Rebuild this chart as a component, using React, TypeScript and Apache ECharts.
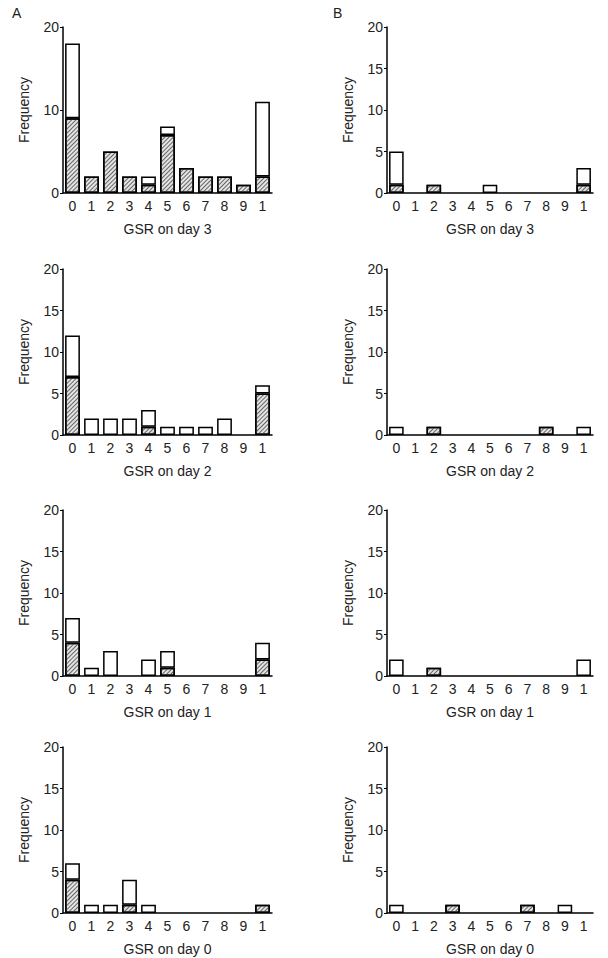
import { useEffect, useRef } from "react";
import * as echarts from "echarts";

const categories = ["0", "1", "2", "3", "4", "5", "6", "7", "8", "9", "1"];
const days = [3, 2, 1, 0];

// totals and hatched parts, rows are day 3, 2, 1, 0
const totalsA = [
  [18, 2, 5, 2, 2, 8, 3, 2, 2, 1, 11],
  [12, 2, 2, 2, 3, 1, 1, 1, 2, 0, 6],
  [7, 1, 3, 0, 2, 3, 0, 0, 0, 0, 4],
  [6, 1, 1, 4, 1, 0, 0, 0, 0, 0, 1],
];
const hatchedA = [
  [9, 2, 5, 2, 1, 7, 3, 2, 2, 1, 2],
  [7, 0, 0, 0, 1, 0, 0, 0, 0, 0, 5],
  [4, 0, 0, 0, 0, 1, 0, 0, 0, 0, 2],
  [4, 0, 0, 1, 0, 0, 0, 0, 0, 0, 1],
];
const totalsB = [
  [5, 0, 1, 0, 0, 1, 0, 0, 0, 0, 3],
  [1, 0, 1, 0, 0, 0, 0, 0, 1, 0, 1],
  [2, 0, 1, 0, 0, 0, 0, 0, 0, 0, 2],
  [1, 0, 0, 1, 0, 0, 0, 1, 0, 1, 0],
];
const hatchedB = [
  [1, 0, 1, 0, 0, 0, 0, 0, 0, 0, 1],
  [0, 0, 1, 0, 0, 0, 0, 0, 1, 0, 0],
  [0, 0, 1, 0, 0, 0, 0, 0, 0, 0, 0],
  [0, 0, 0, 1, 0, 0, 0, 1, 0, 0, 0],
];

const rowTops = [27, 269, 510, 747];
const FONT = "Arial, 'Liberation Sans', sans-serif";

export default function App() {
  const ref = useRef<HTMLDivElement>(null);

  useEffect(() => {
    document.body.style.margin = "0";
    if (!ref.current) return;
    const chart = echarts.init(ref.current, undefined, { renderer: "svg" });

    const grids: any[] = [];
    const xAxes: any[] = [];
    const yAxes: any[] = [];
    const series: any[] = [];
    const decal = {
      symbol: "rect",
      symbolSize: 1,
      dashArrayX: [1, 0],
      dashArrayY: [1, 2],
      rotation: -Math.PI / 4,
      color: "#666",
    };

    const panels = [
      { totals: totalsA, hatched: hatchedA, left: 63, right: 336 },
      { totals: totalsB, hatched: hatchedB, left: 387, right: 15 },
    ];
    let idx = 0;
    panels.forEach((p, pi) => {
      days.forEach((day, ri) => {
        grids.push({ left: p.left, right: p.right, top: rowTops[ri], height: 166 });
        xAxes.push({
          type: "category",
          gridIndex: idx,
          data: categories,
          name: `GSR on day ${day}`,
          nameLocation: "middle",
          nameGap: 29,
          nameTextStyle: { fontSize: 14, color: "#222", fontFamily: FONT },
          axisLine: { lineStyle: { color: "#000", width: 1.5 } },
          axisTick: { alignWithLabel: true, length: 3, lineStyle: { color: "#000" } },
          axisLabel: { fontSize: 14, color: "#222", fontFamily: FONT, interval: 0, margin: 6 },
        });
        const interval = pi === 0 && ri === 0 ? 10 : 5;
        yAxes.push({
          type: "value",
          gridIndex: idx,
          min: 0,
          max: 20,
          interval,
          name: "Frequency",
          nameLocation: "middle",
          nameGap: 32,
          nameTextStyle: { fontSize: 14, color: "#222", fontFamily: FONT },
          splitLine: { show: false },
          axisLine: { show: true, lineStyle: { color: "#000", width: 1.5 } },
          axisTick: { show: true, length: 3, lineStyle: { color: "#000" } },
          axisLabel: { fontSize: 14, color: "#222", fontFamily: FONT, margin: 4 },
        });
        const h = p.hatched[ri];
        const t = p.totals[ri];
        const stack = `s${idx}`;
        series.push({
          type: "bar",
          xAxisIndex: idx,
          yAxisIndex: idx,
          stack,
          barCategoryGap: "22%",
          data: h.map((v) => (v > 0 ? v : null)),
          itemStyle: { color: "#e4e4e4", borderColor: "#000", borderWidth: 1.5, decal },
        });
        series.push({
          type: "bar",
          xAxisIndex: idx,
          yAxisIndex: idx,
          stack,
          barCategoryGap: "22%",
          data: t.map((v, i) => (v - h[i] > 0 ? v - h[i] : null)),
          itemStyle: { color: "#fff", borderColor: "#000", borderWidth: 1.5 },
        });
        idx++;
      });
    });

    chart.setOption({
      animation: false,
      backgroundColor: "#fff",
      grid: grids,
      xAxis: xAxes,
      yAxis: yAxes,
      series,
      graphic: [
        { type: "text", left: 12, top: 6, style: { text: "A", fontSize: 14, fill: "#222", fontFamily: FONT } },
        { type: "text", left: 333, top: 6, style: { text: "B", fontSize: 14, fill: "#222", fontFamily: FONT } },
      ],
    });

    return () => chart.dispose();
  }, []);

  return <div ref={ref} style={{ width: 608, height: 958 }} />;
}
